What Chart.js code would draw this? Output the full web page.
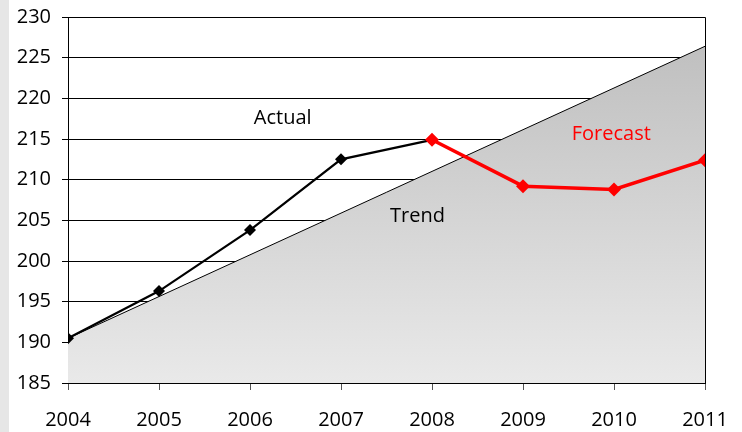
<!DOCTYPE html>
<html>
<head>
<meta charset="utf-8">
<script src="https://cdn.jsdelivr.net/npm/chart.js@4/dist/chart.umd.min.js"></script>
<style>
  html, body { margin: 0; padding: 0; background: #ffffff; }
  #wrap { width: 742px; height: 432px; position: relative; }
</style>
</head>
<body>
<div id="wrap"><canvas id="c" width="742" height="432"></canvas></div>
<script>
// Index values by year
const actualYears   = [2004, 2005, 2006, 2007, 2008];
const actualValues  = [190.5, 196.3, 203.8, 212.5, 214.9];
const forecastYears = [2008, 2009, 2010, 2011];
const forecastValues = [214.9, 209.2, 208.8, 212.4];
const trendYears    = [2004, 2011];
const trendValues   = [190.5, 226.4];
const yTicks = [185, 190, 195, 200, 205, 210, 215, 220, 225, 230];

const FONT = "'Open Sans', 'Noto Sans', sans-serif";

const toPoints = (xs, ys) => xs.map((x, i) => ({ x: x, y: ys[i] }));

// Text labels placed at data coordinates
const textLabels = {
  id: 'textLabels',
  afterDatasetsDraw(chart) {
    const { ctx, scales: { x, y } } = chart;
    const items = [
      { text: 'Actual',   x: 2006.36, y: 217.6, color: '#000000' },
      { text: 'Trend',    x: 2007.84, y: 205.5, color: '#000000' },
      { text: 'Forecast', x: 2009.97, y: 215.6, color: '#ff0000' }
    ];
    ctx.save();
    ctx.font = '20px ' + FONT;
    ctx.textAlign = 'center';
    ctx.textBaseline = 'middle';
    items.forEach(t => {
      ctx.fillStyle = t.color;
      ctx.fillText(t.text, x.getPixelForValue(t.x), y.getPixelForValue(t.y));
    });
    ctx.restore();
  }
};

// Light side strip and the plot frame
const frame = {
  id: 'frame',
  beforeDraw(chart) {
    const ctx = chart.ctx;
    ctx.save();
    ctx.fillStyle = '#e6e6e6';
    ctx.fillRect(0, 0, 9, chart.height);
    ctx.restore();
  },
  afterDatasetsDraw(chart) {
    const { ctx, chartArea: a } = chart;
    ctx.save();
    ctx.strokeStyle = '#000000';
    ctx.lineWidth = 1;
    ctx.beginPath();
    ctx.moveTo(a.left, a.top + 0.5);
    ctx.lineTo(a.right + 0.5, a.top + 0.5);
    ctx.lineTo(a.right + 0.5, a.bottom);
    ctx.stroke();
    ctx.restore();
  }
};

new Chart(document.getElementById('c'), {
  type: 'line',
  data: {
    datasets: [
      {
        label: 'Forecast',
        data: toPoints(forecastYears, forecastValues),
        borderColor: '#ff0000',
        backgroundColor: '#ff0000',
        borderWidth: 3.5,
        pointStyle: 'rectRot',
        pointRadius: 7,
        pointBorderWidth: 0,
        fill: false,
        order: 1
      },
      {
        label: 'Actual',
        data: toPoints(actualYears, actualValues),
        borderColor: '#000000',
        backgroundColor: '#000000',
        borderWidth: 2.2,
        pointStyle: 'rectRot',
        pointRadius: 6,
        pointBorderWidth: 0,
        fill: false,
        order: 2
      },
      {
        label: 'Trend',
        data: toPoints(trendYears, trendValues),
        borderColor: '#000000',
        borderWidth: 1,
        pointRadius: 0,
        fill: 'start',
        backgroundColor: (context) => {
          const area = context.chart.chartArea;
          if (!area) return '#d0d0d0';
          const g = context.chart.ctx.createLinearGradient(0, area.top, 0, area.bottom);
          g.addColorStop(0, '#bcbcbc');
          g.addColorStop(1, '#e9e9e9');
          return g;
        },
        order: 3
      }
    ]
  },
  options: {
    responsive: false,
    animation: false,
    layout: { padding: { left: 16, right: 37, top: 17, bottom: 0 } },
    plugins: {
      legend: { display: false },
      tooltip: { enabled: false }
    },
    scales: {
      x: {
        type: 'linear',
        min: 2004,
        max: 2011,
        afterBuildTicks: (scale) => {
          scale.ticks = actualYears.concat(forecastYears.slice(1)).map(v => ({ value: v }));
        },
        afterFit: (scale) => {
          scale.height = 49;
          scale.paddingLeft = 0;
          scale.paddingRight = 0;
        },
        ticks: {
          callback: (v) => String(v),
          color: '#000000',
          font: { family: FONT, size: 20 },
          padding: 18,
          maxRotation: 0
        },
        grid: {
          drawOnChartArea: false,
          drawTicks: true,
          tickLength: 7,
          color: '#555555',
          lineWidth: 1
        },
        border: { color: '#000000', width: 1 }
      },
      y: {
        min: 185,
        max: 230,
        afterBuildTicks: (scale) => {
          scale.ticks = yTicks.map(v => ({ value: v }));
        },
        afterFit: (scale) => {
          scale.width = 52;
          scale.paddingTop = 0;
          scale.paddingBottom = 0;
        },
        ticks: {
          color: '#000000',
          font: { family: FONT, size: 20 },
          padding: 11
        },
        grid: {
          color: '#000000',
          lineWidth: 1,
          tickLength: 6
        },
        border: { color: '#000000', width: 1 }
      }
    }
  },
  plugins: [frame, textLabels]
});
</script>
</body>
</html>
